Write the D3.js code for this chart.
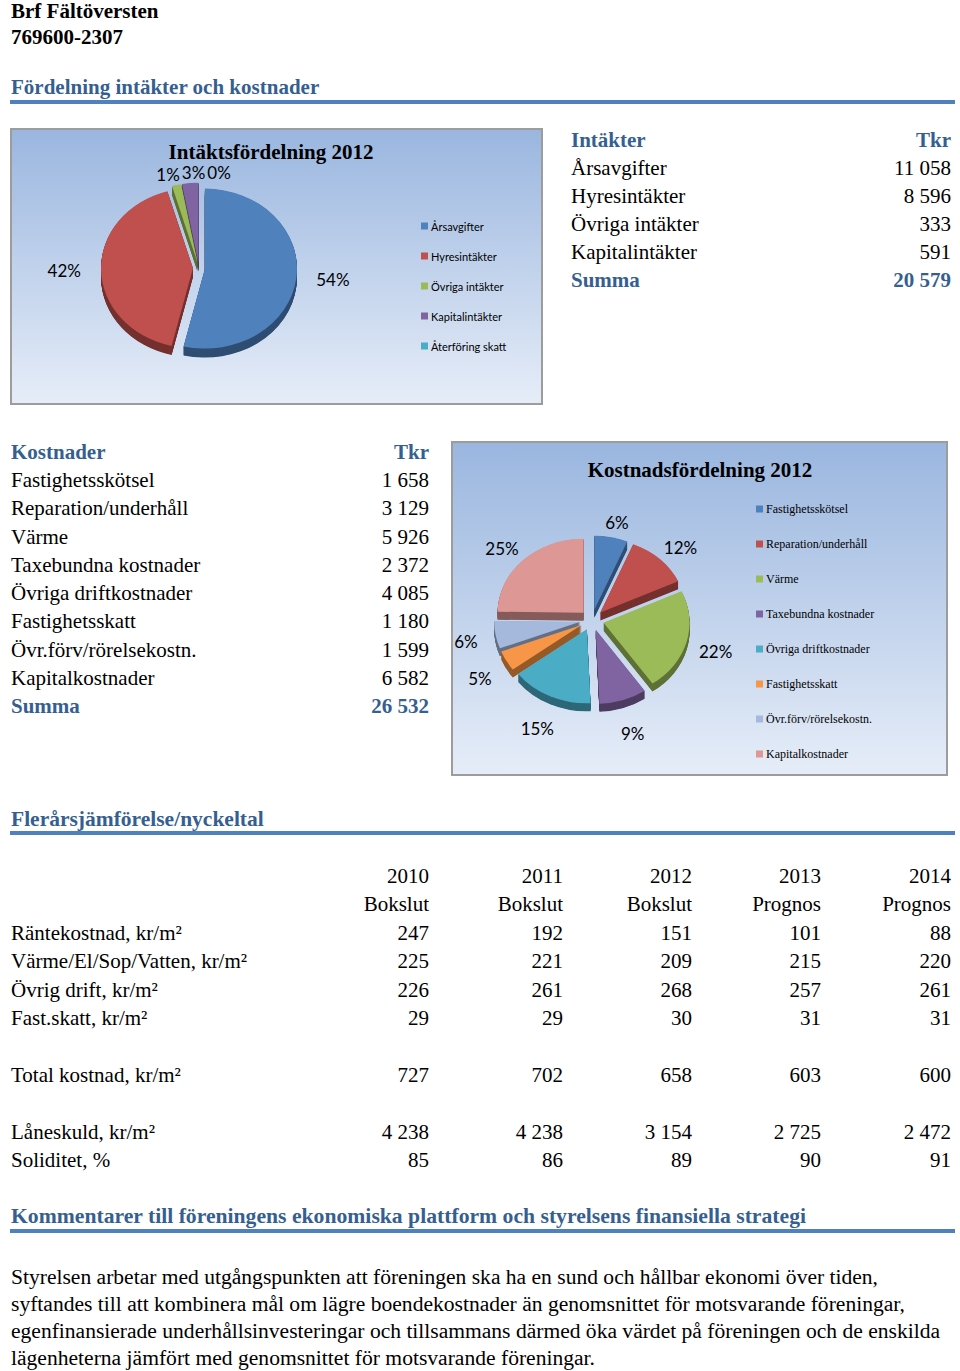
<!DOCTYPE html>
<html lang="sv">
<head>
<meta charset="utf-8">
<title>Brf Fältöversten</title>
<script src="https://d3js.org/d3.v7.min.js"></script>
<style>
    body { margin: 0; background: #ffffff; }
    svg { display: block; }
    .serif { font-family: "Liberation Serif", "Times New Roman", serif; }
    .sans { font-family: Lato, "Open Sans", sans-serif; }
    .heading { font-weight: bold; fill: #365f91; }
</style>
</head>
<body>
<svg id="page" width="960" height="1371"></svg>
<script>
// ---- data ----
const incomeCategories = ["Årsavgifter", "Hyresintäkter", "Övriga intäkter", "Kapitalintäkter", "Återföring skatt"];
const incomeValues = [11058, 8596, 333, 591, 0];
const incomePctLabels = ["54%", "42%", "1%", "3%", "0%"];
const incomeTotal = 20579;

const costCategories = ["Fastighetsskötsel", "Reparation/underhåll", "Värme", "Taxebundna kostnader",
    "Övriga driftkostnader", "Fastighetsskatt", "Övr.förv/rörelsekostn.", "Kapitalkostnader"];
const costValues = [1658, 3129, 5926, 2372, 4085, 1180, 1599, 6582];
const costPctLabels = ["6%", "12%", "22%", "9%", "15%", "5%", "6%", "25%"];
const costTotal = 26532;

const years = ["2010", "2011", "2012", "2013", "2014"];
const yearTypes = ["Bokslut", "Bokslut", "Bokslut", "Prognos", "Prognos"];
const interestCost = [247, 192, 151, 101, 88];
const heatingWaterCost = [225, 221, 209, 215, 220];
const otherOperations = [226, 261, 268, 257, 261];
const propertyTax = [29, 29, 30, 31, 31];
const totalCost = [727, 702, 658, 603, 600];
const loanDebt = [4238, 4238, 3154, 2725, 2472];
const solidity = [85, 86, 89, 90, 91];

const commentLines = [
    "Styrelsen arbetar med utgångspunkten att föreningen ska ha en sund och hållbar ekonomi över tiden,",
    "syftandes till att kombinera mål om lägre boendekostnader än genomsnittet för motsvarande föreningar,",
    "egenfinansierade underhållsinvesteringar och tillsammans därmed öka värdet på föreningen och de enskilda",
    "lägenheterna jämfört med genomsnittet för motsvarande föreningar."
];

const excelColors = ["#4f81bd", "#c0504d", "#9bbb59", "#8064a2", "#4bacc6", "#f79646", "#a5b9dc", "#dd9896"];

const svg = d3.select("#page");
const fmt = d3.formatLocale({ decimal: ",", thousands: "\u00a0", grouping: [3], currency: ["", ""] }).format(",d");
const ruleBlue = "#4f81bd";

svg.append("rect").attr("width", 960).attr("height", 1371).attr("fill", "#fff");

// gradient used by both chart boxes
const defs = svg.append("defs");
const grad = defs.append("linearGradient").attr("id", "chart-bg")
    .attr("x1", "0%").attr("x2", "0%").attr("y1", "0%").attr("y2", "100%");
grad.append("stop").attr("offset", "0%").attr("stop-color", "#9ab6df");
grad.append("stop").attr("offset", "100%").attr("stop-color", "#e6edf8");

// ---- headers and rules ----
function heading(text, y, size) {
    svg.append("text").attr("class", "serif heading")
        .attr("x", 11).attr("y", y).attr("font-size", size || 21).text(text);
}
function rule(y) {
    svg.append("line").attr("x1", 10).attr("x2", 955).attr("y1", y).attr("y2", y)
        .attr("stroke", ruleBlue).attr("stroke-width", 4);
}

svg.append("text").attr("class", "serif").attr("font-weight", "bold").attr("font-size", 21)
    .attr("x", 11).attr("y", 18).text("Brf Fältöversten");
svg.append("text").attr("class", "serif").attr("font-weight", "bold").attr("font-size", 21)
    .attr("x", 11).attr("y", 44).text("769600-2307");
heading("Fördelning intäkter och kostnader", 94);
rule(102);

// ---- simple 3D pie: squashed arcs plus stacked darker copies for the side ----
function pie3d(box, values, labels, cfg) {
    const arcs = d3.pie().sort(null).value(d => d)(values);
    const arc = d3.arc().innerRadius(0).outerRadius(cfg.r);
    const k = cfg.ry / cfg.r;
    const mid = a => (a.startAngle + a.endAngle) / 2;
    const off = a => [Math.sin(mid(a)) * cfg.explode, -Math.cos(mid(a)) * cfg.explode];

    const g = box.append("g").attr("transform", `translate(${cfg.cx},${cfg.cy}) scale(1,${k})`);
    const sides = g.append("g");
    for (let t = cfg.depth; t > 0; t -= 0.5) {
        sides.append("g").selectAll("path").data(arcs).join("path")
            .attr("d", arc)
            .attr("transform", d => `translate(${off(d)[0]},${off(d)[1] + t / k})`)
            .attr("fill", (d, i) => d3.color(excelColors[i]).darker(1.4));
    }
    g.append("g").selectAll("path").data(arcs).join("path")
        .attr("d", arc)
        .attr("transform", d => `translate(${off(d)[0]},${off(d)[1]})`)
        .attr("fill", (d, i) => excelColors[i]);

    // percentage labels, pushed right when they collide
    const placed = [];
    arcs.forEach((a, i) => {
        const c = Math.cos(mid(a));
        let x = cfg.cx + Math.sin(mid(a)) * cfg.r * cfg.labelRx + off(a)[0];
        const y = cfg.cy - c * cfg.ry * cfg.labelRy + (c < 0 ? -c * cfg.lower : 0);
        const t = box.append("text").attr("class", "sans").attr("font-size", 17)
            .attr("text-anchor", "middle").attr("dominant-baseline", "central")
            .attr("x", x).attr("y", y).text(labels[i]);
        const w = t.node().getComputedTextLength();
        placed.forEach(p => {
            if (Math.abs(p.y - y) < 16 && Math.abs(p.x - x) < (p.w + w) / 2 + 2) {
                x = p.x + (p.w + w) / 2 + 2;
            }
        });
        t.attr("x", x);
        placed.push({ x, y, w });
    });
}

function legend(box, names, cfg) {
    const items = box.append("g").selectAll("g").data(names).join("g")
        .attr("transform", (d, i) => `translate(${cfg.x},${cfg.y + i * cfg.step})`);
    items.append("rect").attr("x", 0).attr("y", -3.5).attr("width", 7).attr("height", 7)
        .attr("fill", (d, i) => excelColors[i]);
    items.append("text").attr("class", cfg.font).attr("font-size", cfg.size)
        .attr("x", 10).attr("dominant-baseline", "central").text(d => d);
}

function chartBox(x, y, w, h) {
    const box = svg.append("g");
    box.append("rect").attr("x", x).attr("y", y).attr("width", w).attr("height", h)
        .attr("fill", "url(#chart-bg)").attr("stroke", "#9c9c9c").attr("stroke-width", 2);
    return box;
}

// ---- income chart ----
const box1 = chartBox(11, 129, 531, 275);
box1.append("text").attr("class", "serif").attr("font-weight", "bold").attr("font-size", 21)
    .attr("text-anchor", "middle").attr("x", 271).attr("y", 159).text("Intäktsfördelning 2012");
pie3d(box1, incomeValues, incomePctLabels,
    { cx: 199, cy: 268, r: 92, ry: 80, explode: 6, depth: 9, labelRx: 1.4, labelRy: 1.2, lower: 0 });
legend(box1, incomeCategories, { x: 421, y: 226, step: 30, font: "sans", size: 11 });

// ---- income table ----
const incY = d3.scaleLinear().domain([0, 5]).range([147, 287]);
const incTable = svg.append("g").attr("class", "serif").attr("font-size", 21);
incTable.append("text").attr("class", "heading").attr("x", 571).attr("y", incY(0)).text("Intäkter");
incTable.append("text").attr("class", "heading").attr("x", 951).attr("y", incY(0)).attr("text-anchor", "end").text("Tkr");
incomeCategories.slice(0, 4).forEach((c, i) => {
    incTable.append("text").attr("x", 571).attr("y", incY(i + 1)).text(c);
    incTable.append("text").attr("x", 951).attr("y", incY(i + 1)).attr("text-anchor", "end").text(fmt(incomeValues[i]));
});
incTable.append("text").attr("class", "heading").attr("x", 571).attr("y", incY(5)).text("Summa");
incTable.append("text").attr("class", "heading").attr("x", 951).attr("y", incY(5)).attr("text-anchor", "end").text(fmt(incomeTotal));

// ---- cost table ----
const costY = d3.scaleLinear().domain([0, 9]).range([459, 713]);
const costTable = svg.append("g").attr("class", "serif").attr("font-size", 21);
costTable.append("text").attr("class", "heading").attr("x", 11).attr("y", costY(0)).text("Kostnader");
costTable.append("text").attr("class", "heading").attr("x", 429).attr("y", costY(0)).attr("text-anchor", "end").text("Tkr");
costCategories.forEach((c, i) => {
    costTable.append("text").attr("x", 11).attr("y", costY(i + 1)).text(c);
    costTable.append("text").attr("x", 429).attr("y", costY(i + 1)).attr("text-anchor", "end").text(fmt(costValues[i]));
});
costTable.append("text").attr("class", "heading").attr("x", 11).attr("y", costY(9)).text("Summa");
costTable.append("text").attr("class", "heading").attr("x", 429).attr("y", costY(9)).attr("text-anchor", "end").text(fmt(costTotal));

// ---- cost chart ----
const box2 = chartBox(452, 442, 495, 333);
box2.append("text").attr("class", "serif").attr("font-weight", "bold").attr("font-size", 21)
    .attr("text-anchor", "middle").attr("x", 700).attr("y", 477).text("Kostnadsfördelning 2012");
pie3d(box2, costValues, costPctLabels,
    { cx: 592, cy: 620, r: 86, ry: 74, explode: 12, depth: 8, labelRx: 1.35, labelRy: 1.35, lower: 20 });
legend(box2, costCategories, { x: 756, y: 509, step: 35, font: "serif", size: 12 });

// ---- multi-year key figures ----
heading("Flerårsjämförelse/nyckeltal", 826, 21.5);
rule(833);

const colX = d3.scaleOrdinal().domain(years).range([429, 563, 692, 821, 951]);
const rowY = d3.scaleLinear().domain([0, 10]).range([883, 1167]);
const keyRows = [
    ["Räntekostnad, kr/m²", interestCost],
    ["Värme/El/Sop/Vatten, kr/m²", heatingWaterCost],
    ["Övrig drift, kr/m²", otherOperations],
    ["Fast.skatt, kr/m²", propertyTax],
    null,
    ["Total kostnad, kr/m²", totalCost],
    null,
    ["Låneskuld, kr/m²", loanDebt],
    ["Soliditet, %", solidity]
];
const keyTable = svg.append("g").attr("class", "serif").attr("font-size", 21);
years.forEach((yr, j) => {
    keyTable.append("text").attr("x", colX(yr)).attr("y", rowY(0)).attr("text-anchor", "end").text(yr);
    keyTable.append("text").attr("x", colX(yr)).attr("y", rowY(1)).attr("text-anchor", "end").text(yearTypes[j]);
});
keyRows.forEach((row, i) => {
    if (!row) return;
    keyTable.append("text").attr("x", 11).attr("y", rowY(i + 2)).text(row[0]);
    years.forEach((yr, j) => {
        keyTable.append("text").attr("x", colX(yr)).attr("y", rowY(i + 2))
            .attr("text-anchor", "end").text(fmt(row[1][j]));
    });
});

// ---- comments ----
svg.append("text").attr("class", "serif heading").attr("font-size", 21)
    .attr("x", 11).attr("y", 1223).attr("textLength", 795).attr("lengthAdjust", "spacingAndGlyphs")
    .text("Kommentarer till föreningens ekonomiska plattform och styrelsens finansiella strategi");
rule(1231);
const lineWidths = [867, 894, 929, 584];
commentLines.forEach((line, i) => {
    svg.append("text").attr("class", "serif").attr("font-size", 20)
        .attr("x", 11).attr("y", 1284 + i * 27)
        .attr("textLength", lineWidths[i]).attr("lengthAdjust", "spacingAndGlyphs")
        .text(line);
});
</script>
</body>
</html>
